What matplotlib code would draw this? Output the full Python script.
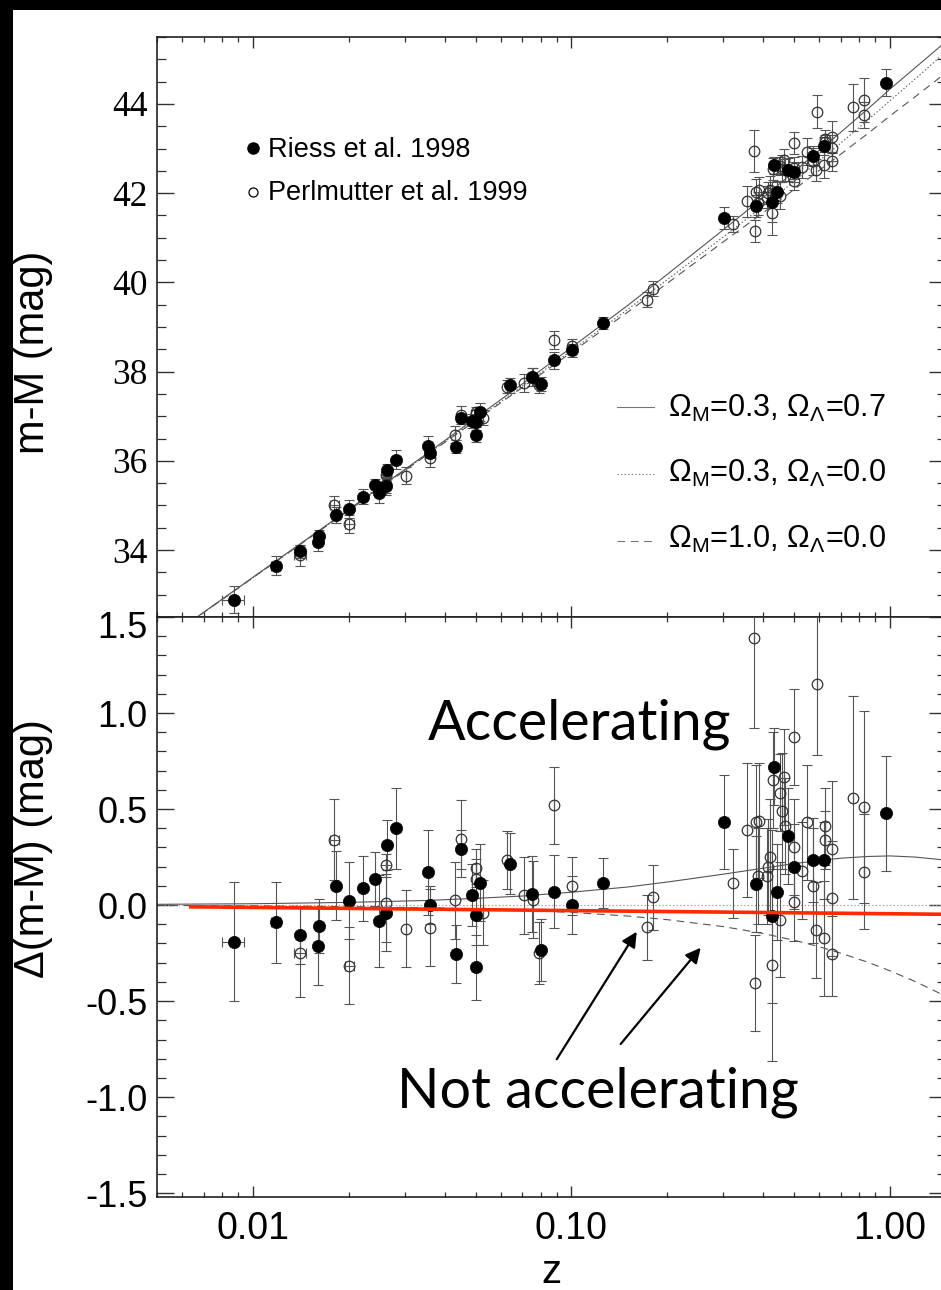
import matplotlib
matplotlib.use('Agg')
import matplotlib.pyplot as plt
from matplotlib.patches import Rectangle
from matplotlib.ticker import FixedLocator, MultipleLocator, FuncFormatter, NullFormatter

plt.rcParams['font.family'] = ['Liberation Sans', 'DejaVu Sans']
plt.rcParams['mathtext.fontset'] = 'custom'
plt.rcParams['mathtext.rm'] = 'Liberation Sans'
plt.rcParams['mathtext.it'] = 'Liberation Sans:italic'
plt.rcParams['mathtext.bf'] = 'Liberation Sans:bold'
plt.rcParams['axes.unicode_minus'] = False

# ---------------- data ----------------
# Riess et al. 1998 (filled)
riess_z = [0.0087, 0.0118, 0.0141, 0.0161, 0.0160, 0.0182, 0.0201, 0.0221, 0.0242, 0.0249,
           0.0263, 0.0261, 0.0281, 0.0355, 0.0359, 0.0433, 0.0451, 0.0489, 0.0503, 0.0503,
           0.0518, 0.0642, 0.0751, 0.0801, 0.0879, 0.1007, 0.1255, 0.3008, 0.381, 0.426,
           0.432, 0.443, 0.480, 0.501, 0.573, 0.623, 0.975]
riess_mu = [32.89, 33.65, 33.97, 34.31, 34.19, 34.79, 34.93, 35.20, 35.45, 35.29,
            35.80, 35.43, 36.03, 36.33, 36.17, 36.32, 36.96, 36.90, 36.86, 36.59,
            37.09, 37.69, 37.88, 37.73, 38.25, 38.48, 39.09, 41.45, 41.71, 41.81,
            42.62, 42.03, 42.53, 42.47, 42.83, 43.05, 44.48]
riess_dmu = [-0.19, -0.09, -0.155, -0.11, -0.215, 0.10, 0.022, 0.088, 0.136, -0.081,
             0.311, -0.04, 0.40, 0.17, 0.0, -0.256, 0.29, 0.053, -0.05, -0.325,
             0.117, 0.216, 0.058, -0.235, 0.07, 0.0, 0.113, 0.431, 0.11, -0.058,
             0.72, 0.07, 0.362, 0.20, 0.234, 0.234, 0.478]
riess_err = [0.31, 0.21, 0.15, 0.14, 0.20, 0.18, 0.20, 0.17, 0.14, 0.24,
             0.13, 0.20, 0.21, 0.22, 0.10, 0.15, 0.10, 0.16, 0.16, 0.17,
             0.20, 0.16, 0.20, 0.16, 0.19, 0.15, 0.13, 0.245, 0.25, 0.45,
             0.20, 0.25, 0.25, 0.22, 0.22, 0.20, 0.30]
riess_zerr = [0.0007, 0.0004, 0, 0, 0, 0, 0, 0, 0, 0,
              0, 0, 0, 0, 0, 0, 0, 0, 0, 0,
              0, 0, 0, 0, 0, 0, 0, 0, 0, 0,
              0, 0, 0, 0, 0, 0, 0]

# Perlmutter et al. 1999 (open)
perl_z = [0.0141, 0.0180, 0.0201, 0.0261, 0.0261, 0.0302, 0.0360, 0.0432, 0.0451, 0.0503,
          0.0503, 0.0526, 0.0630, 0.0710, 0.0755, 0.0790, 0.0882, 0.1007, 0.173, 0.1806,
          0.322, 0.356, 0.3755, 0.376, 0.380, 0.388, 0.385, 0.426, 0.430, 0.453,
          0.464, 0.460, 0.469, 0.415, 0.420, 0.410, 0.453, 0.499, 0.499, 0.499,
          0.530, 0.550, 0.575, 0.584, 0.590, 0.620, 0.624, 0.624, 0.660, 0.660,
          0.660, 0.766, 0.830, 0.830]
perl_mu = [33.88, 35.00, 34.59, 35.68, 35.48, 35.67, 36.06, 36.59, 37.02, 37.10,
           37.05, 36.97, 37.66, 37.75, 37.87, 37.69, 38.71, 38.58, 39.61, 39.86,
           41.30, 41.82, 42.94, 41.15, 42.02, 42.07, 41.77, 41.56, 42.54, 42.61,
           42.75, 42.55, 42.52, 42.00, 42.08, 41.92, 41.94, 43.13, 42.56, 42.27,
           42.59, 42.93, 42.71, 42.52, 43.82, 42.63, 43.22, 43.15, 43.26, 43.01,
           42.71, 43.92, 44.09, 43.75]
perl_dmu = [-0.247, 0.34, -0.316, 0.208, 0.01, -0.122, -0.118, 0.024, 0.345, 0.194,
            0.138, -0.04, 0.234, 0.05, 0.027, -0.25, 0.52, 0.10, -0.115, 0.04,
            0.113, 0.39, 1.39, -0.405, 0.43, 0.44, 0.15, -0.31, 0.65, 0.585,
            0.667, 0.49, 0.41, 0.20, 0.25, 0.15, -0.076, 0.873, 0.30, 0.014,
            0.18, 0.43, 0.10, -0.13, 1.15, -0.174, 0.41, 0.34, 0.294, 0.036,
            -0.256, 0.56, 0.51, 0.174]
perl_err = [0.23, 0.21, 0.20, 0.06, 0.20, 0.20, 0.20, 0.20, 0.20, 0.10,
            0.10, 0.17, 0.15, 0.20, 0.20, 0.16, 0.20, 0.15, 0.17, 0.17,
            0.18, 0.35, 0.47, 0.25, 0.30, 0.30, 0.25, 0.50, 0.25, 0.20,
            0.25, 0.30, 0.25, 0.25, 0.30, 0.25, 0.30, 0.25, 0.25, 0.20,
            0.25, 0.30, 0.30, 0.25, 0.37, 0.30, 0.20, 0.15, 0.35, 0.30,
            0.22, 0.53, 0.50, 0.30]
perl_zerr = [0.0006, 0.0006, 0.0007, 0, 0, 0, 0, 0, 0, 0,
             0, 0, 0, 0, 0, 0, 0, 0, 0, 0,
             0, 0, 0, 0, 0, 0, 0, 0, 0, 0,
             0, 0, 0, 0, 0, 0, 0, 0, 0, 0,
             0, 0, 0, 0, 0, 0, 0, 0, 0, 0,
             0, 0, 0, 0]

# cosmological model curves
model_z = [0.005, 0.01, 0.02, 0.035, 0.05, 0.07, 0.1, 0.15, 0.2, 0.3, 0.4, 0.5,
           0.6, 0.7, 0.85, 1.0, 1.2, 1.5]
mu_m03_l07 = [31.86, 33.39, 34.91, 36.15, 36.96, 37.72, 38.54, 39.48, 40.18, 41.18, 41.90, 42.48,
              42.96, 43.36, 43.88, 44.33, 44.81, 45.40]
mu_m03_l00 = [31.86, 33.38, 34.90, 36.13, 36.92, 37.67, 38.47, 39.39, 40.06, 41.02, 41.71, 42.26,
              42.73, 43.12, 43.63, 44.07, 44.56, 45.17]
mu_m10_l00 = [31.86, 33.38, 34.89, 36.12, 36.90, 37.64, 38.43, 39.33, 39.98, 40.91, 41.56, 42.08,
              42.51, 42.87, 43.33, 43.73, 44.16, 44.70]
dmu_m03_l07 = [0.004, 0.007, 0.014, 0.024, 0.035, 0.047, 0.067, 0.094, 0.12, 0.161, 0.192, 0.216,
               0.232, 0.244, 0.253, 0.256, 0.25, 0.234]
dmu_m03_l00 = [0.0, 0.0, 0.0, 0.0, 0.0, 0.0, 0.0, 0.0, 0.0, 0.0, 0.0, 0.0,
               0.0, 0.0, 0.0, 0.0, 0.0, 0.0]
dmu_m10_l00 = [-0.002, -0.004, -0.008, -0.014, -0.019, -0.027, -0.038, -0.057, -0.076, -0.112, -0.148, -0.183,
               -0.217, -0.25, -0.297, -0.342, -0.398, -0.475]

# red overlay line
red_z = [0.0063, 1.5]
red_dmu = [-0.009, -0.048]

model_labels = [r'$\Omega_{\mathrm{M}}$=0.3, $\Omega_{\Lambda}$=0.7',
                r'$\Omega_{\mathrm{M}}$=0.3, $\Omega_{\Lambda}$=0.0',
                r'$\Omega_{\mathrm{M}}$=1.0, $\Omega_{\Lambda}$=0.0']
series_labels = ['Riess et al. 1998', 'Perlmutter et al. 1999']
x_ticklabels = ['0.01', '0.10', '1.00']

# ---------------- figure ----------------
W, H = 941, 1290
fig = plt.figure(figsize=(W / 100, H / 100), dpi=100)
fig.patch.set_facecolor('white')
fig.add_artist(Rectangle((0, 0), 13 / W, 1, transform=fig.transFigure,
                         facecolor='black', edgecolor='none', zorder=0))
fig.add_artist(Rectangle((0, 1 - 10 / H), 1, 10 / H, transform=fig.transFigure,
                         facecolor='black', edgecolor='none', zorder=0))

L, R = 157 / W, 946 / W
ax1 = fig.add_axes([L, 1 - 617 / H, R - L, 580 / H])
ax2 = fig.add_axes([L, 1 - 1197 / H, R - L, 580 / H])

ecol = '#555555'
lcol = '#555555'
styles = ['-', (0, (1.2, 2.0)), (0, (7, 5))]


def draw_points(ax, z, y, e, ze, filled):
    ax.errorbar(z, y, yerr=e, xerr=ze, fmt='none', ecolor=ecol, elinewidth=0.8,
                capsize=3.8, capthick=0.8, zorder=3)
    if filled:
        ax.plot(z, y, 'o', ms=8.8, mfc='black', mec='black', mew=0.5, zorder=5, ls='none')
    else:
        ax.plot(z, y, 'o', ms=7.6, mfc='none', mec='#333333', mew=0.9, zorder=4, ls='none')


for ax in (ax1, ax2):
    ax.set_xscale('log')
    ax.set_xlim(0.005, 1.5)
    ax.tick_params(which='both', direction='in', top=True, right=True, color='#333333')
    ax.tick_params(axis='x', which='major', length=8, width=1.0)
    ax.tick_params(axis='x', which='minor', length=3.6, width=0.9)
    ax.tick_params(axis='y', which='major', length=12, width=1.0)
    ax.tick_params(axis='y', which='minor', length=6.5, width=0.9)
    ax.xaxis.set_major_locator(FixedLocator([0.01, 0.1, 1.0]))
    for s in ax.spines.values():
        s.set_linewidth(1.2)
        s.set_color('#222222')

# ---- upper panel ----
ax1.plot(model_z, mu_m03_l07, color=lcol, lw=0.8, ls=styles[0], zorder=2)
ax1.plot(model_z, mu_m03_l00, color=lcol, lw=0.8, ls=styles[1], zorder=2)
ax1.plot(model_z, mu_m10_l00, color=lcol, lw=0.8, ls=styles[2], zorder=2)
draw_points(ax1, perl_z, perl_mu, perl_err, perl_zerr, False)
draw_points(ax1, riess_z, riess_mu, riess_err, riess_zerr, True)
ax1.set_ylim(32.5, 45.5)
ax1.yaxis.set_major_locator(MultipleLocator(2))
ax1.yaxis.set_minor_locator(MultipleLocator(0.5))
ax1.tick_params(axis='x', which='both', labelbottom=False)
ax1.tick_params(axis='y', which='major', labelsize=25.5, pad=7)
for lab in ax1.get_yticklabels():
    lab.set_family(['Liberation Serif', 'DejaVu Serif'])

# legend (data)
ax1.plot([0.1217], [0.8086], 'o', transform=ax1.transAxes, ms=8, mfc='black', mec='black')
ax1.text(0.1407, 0.7931, series_labels[0], transform=ax1.transAxes, ha='left', va='baseline', size=19.5)
ax1.plot([0.1217], [0.7328], 'o', transform=ax1.transAxes, ms=6.5, mfc='none', mec='black', mew=0.9)
ax1.text(0.1407, 0.719, series_labels[1], transform=ax1.transAxes, ha='left', va='baseline', size=19.5)

# legend (models)
for i, (yl, yb) in enumerate([(0.362, 0.3448), (0.2466, 0.2328), (0.131, 0.119)]):
    ax1.plot([0.583, 0.630], [yl, yl], transform=ax1.transAxes, color='#777777', lw=0.8, ls=styles[i])
    ax1.text(0.6477, yb, model_labels[i], transform=ax1.transAxes, ha='left', va='baseline', size=22)

# ---- lower panel ----
ax2.plot(model_z, dmu_m03_l07, color=lcol, lw=0.8, ls=styles[0], zorder=2)
ax2.plot(model_z, dmu_m03_l00, color='#999999', lw=0.8, ls=styles[1], zorder=2)
ax2.plot(model_z, dmu_m10_l00, color=lcol, lw=0.8, ls=styles[2], zorder=2)
draw_points(ax2, perl_z, perl_dmu, perl_err, perl_zerr, False)
draw_points(ax2, riess_z, riess_dmu, riess_err, riess_zerr, True)
ax2.plot(red_z, red_dmu, color='#ff2a00', lw=2.6, zorder=6, solid_capstyle='butt')
ax2.set_ylim(-1.52, 1.5)
ax2.yaxis.set_major_locator(MultipleLocator(0.5))
ax2.yaxis.set_minor_locator(MultipleLocator(0.1))
# top label (1.5) is drawn separately, slightly below the panel junction as in the original
ax2.yaxis.set_major_formatter(FuncFormatter(lambda v, p: '' if v > 1.45 else '%.1f' % v))
ax2.xaxis.set_minor_formatter(NullFormatter())
ax2.set_xticklabels(x_ticklabels)
ax2.tick_params(axis='y', which='major', labelsize=26, pad=7)
ax2.tick_params(axis='x', which='major', labelsize=27, pad=10)
fig.text(147 / W, 1 - 628 / H, '1.5', ha='right', va='center', size=26)

# annotations
ax2.text(0.536, 0.788, 'Accelerating', transform=ax2.transAxes, ha='center', va='baseline',
         size=40, family=['Lato', 'DejaVu Sans'], fontweight='normal')
ax2.text(0.559, 0.155, 'Not accelerating', transform=ax2.transAxes, ha='center', va='baseline',
         size=40, family=['Lato', 'DejaVu Sans'], fontweight='normal')
arrow_kw = dict(arrowstyle='-|>,head_length=0.9,head_width=0.45', color='black', lw=1.6,
                shrinkA=0, shrinkB=0)
ax2.annotate('', xy=(0.608, 0.4574), xytext=(0.5066, 0.2374), xycoords='axes fraction',
             textcoords='axes fraction', arrowprops=arrow_kw)
ax2.annotate('', xy=(0.6891, 0.4298), xytext=(0.5877, 0.2638), xycoords='axes fraction',
             textcoords='axes fraction', arrowprops=arrow_kw)

# axis labels
fig.text(33 / W, 1 - 352 / H, 'm-M (mag)', rotation=90, ha='center', va='center', size=30)
fig.text(33 / W, 1 - 849 / H, 'Δ(m-M) (mag)', rotation=90, ha='center', va='center', size=30)
fig.text(551 / W, 1 - 1283 / H, 'z', ha='center', va='baseline', size=29)

fig.savefig('out.png', dpi=100, facecolor='white')
